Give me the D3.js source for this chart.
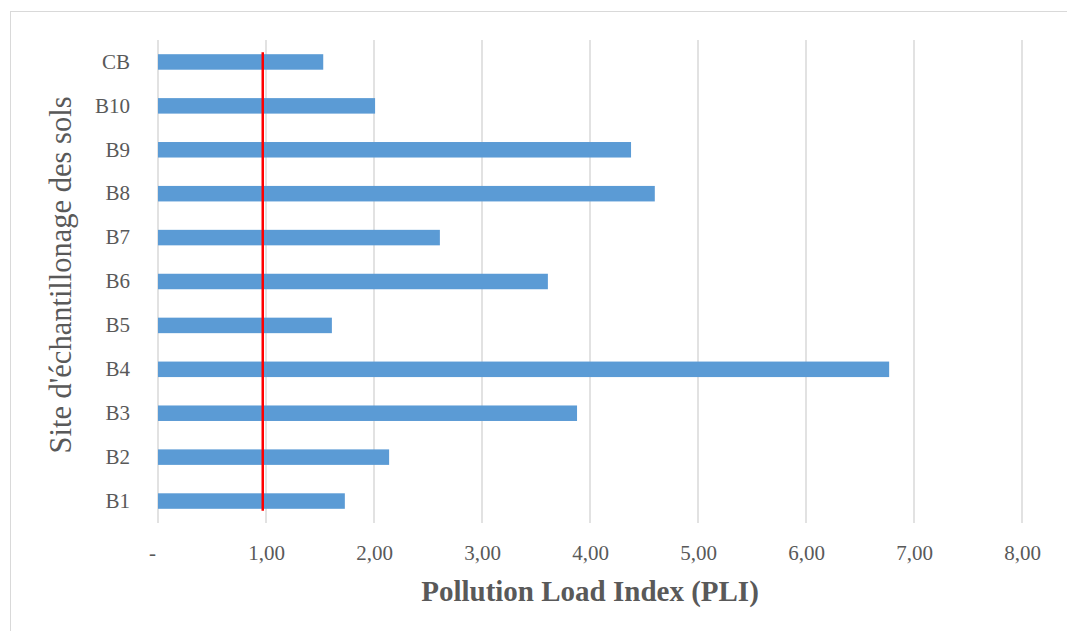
<!DOCTYPE html>
<html>
<head>
<meta charset="utf-8">
<script src="https://cdn.jsdelivr.net/npm/d3@7"></script>
<style>
  html, body { margin: 0; padding: 0; background: #fff; }
  svg { display: block; font-family: "Liberation Serif", "Times New Roman", serif; }
</style>
</head>
<body>
<svg id="chart" width="1067" height="631"></svg>
<script>
// Sampling sites, top to bottom
const sites = ["CB", "B10", "B9", "B8", "B7", "B6", "B5", "B4", "B3", "B2", "B1"];
// Pollution Load Index per site
const pliValues = [1.53, 2.01, 4.38, 4.60, 2.61, 3.61, 1.61, 6.77, 3.88, 2.14, 1.73];
// Reference threshold line (PLI = 1)
const threshold = [0.97];
// Axis ticks and their labels
const tickValues = [0, 1, 2, 3, 4, 5, 6, 7, 8];
const tickLabels = ["-", "1,00", "2,00", "3,00", "4,00", "5,00", "6,00", "7,00", "8,00"];

const svg = d3.select("#chart");
const W = 1067, H = 631;
const margin = { left: 158, right: 45, top: 40, bottom: 108 };
const serif = "'Liberation Serif', 'Times New Roman', serif";

// Outer chart frame
svg.append("rect")
  .attr("x", 10.5).attr("y", 11.5)
  .attr("width", W + 20).attr("height", H + 20)
  .attr("fill", "#fff").attr("stroke", "#d9d9d9").attr("stroke-width", 1);

const x = d3.scaleLinear().domain([0, 8]).range([margin.left, W - margin.right]);
const y = d3.scaleBand().domain(sites)
  .range([margin.top, H - margin.bottom])
  .paddingInner(0.647).paddingOuter(0.3235);

// Vertical gridlines
svg.append("g")
  .selectAll("line")
  .data(tickValues)
  .join("line")
  .attr("x1", d => x(d)).attr("x2", d => x(d))
  .attr("y1", margin.top).attr("y2", H - margin.bottom)
  .attr("stroke", "#d9d9d9").attr("stroke-width", 1.5);

// Bars
svg.append("g")
  .selectAll("rect")
  .data(sites.map((s, i) => ({ site: s, value: pliValues[i] })))
  .join("rect")
  .attr("x", x(0))
  .attr("y", d => y(d.site))
  .attr("width", d => x(d.value) - x(0))
  .attr("height", y.bandwidth())
  .attr("fill", "#5b9bd5");

// Threshold line
svg.append("g")
  .selectAll("line")
  .data(threshold)
  .join("line")
  .attr("x1", d => x(d)).attr("x2", d => x(d))
  .attr("y1", y(sites[0]) - 2)
  .attr("y2", y(sites[sites.length - 1]) + y.bandwidth() + 2)
  .attr("stroke", "#ff0000").attr("stroke-width", 2.5);

// X axis tick labels
const xAxis = d3.axisBottom(x)
  .tickValues(tickValues)
  .tickFormat((d, i) => tickLabels[i])
  .tickSize(0).tickPadding(22);
const gx = svg.append("g")
  .attr("transform", `translate(0,${H - margin.bottom})`)
  .call(xAxis);
gx.attr("font-family", serif);
gx.select(".domain").remove();
gx.selectAll("text")
  .attr("fill", "#595959")
  .style("font-size", "21px");
gx.selectAll("text").filter((d, i) => i === 0).attr("dx", -6);

// Y axis category labels
const yAxis = d3.axisLeft(y).tickSize(0).tickPadding(28);
const gy = svg.append("g")
  .attr("transform", `translate(${margin.left},0)`)
  .call(yAxis);
gy.attr("font-family", serif);
gy.select(".domain").remove();
gy.selectAll("text")
  .attr("fill", "#595959")
  .style("font-size", "21px");

// Axis titles
svg.append("text")
  .attr("x", 590).attr("y", 601)
  .attr("text-anchor", "middle")
  .attr("fill", "#595959")
  .style("font-size", "29px").style("font-weight", "bold")
  .text("Pollution Load Index (PLI)");

svg.append("text")
  .attr("transform", "translate(71,275) rotate(-90)")
  .attr("text-anchor", "middle")
  .attr("fill", "#595959")
  .style("font-size", "30.5px")
  .text("Site d'échantillonage des sols");
</script>
</body>
</html>
